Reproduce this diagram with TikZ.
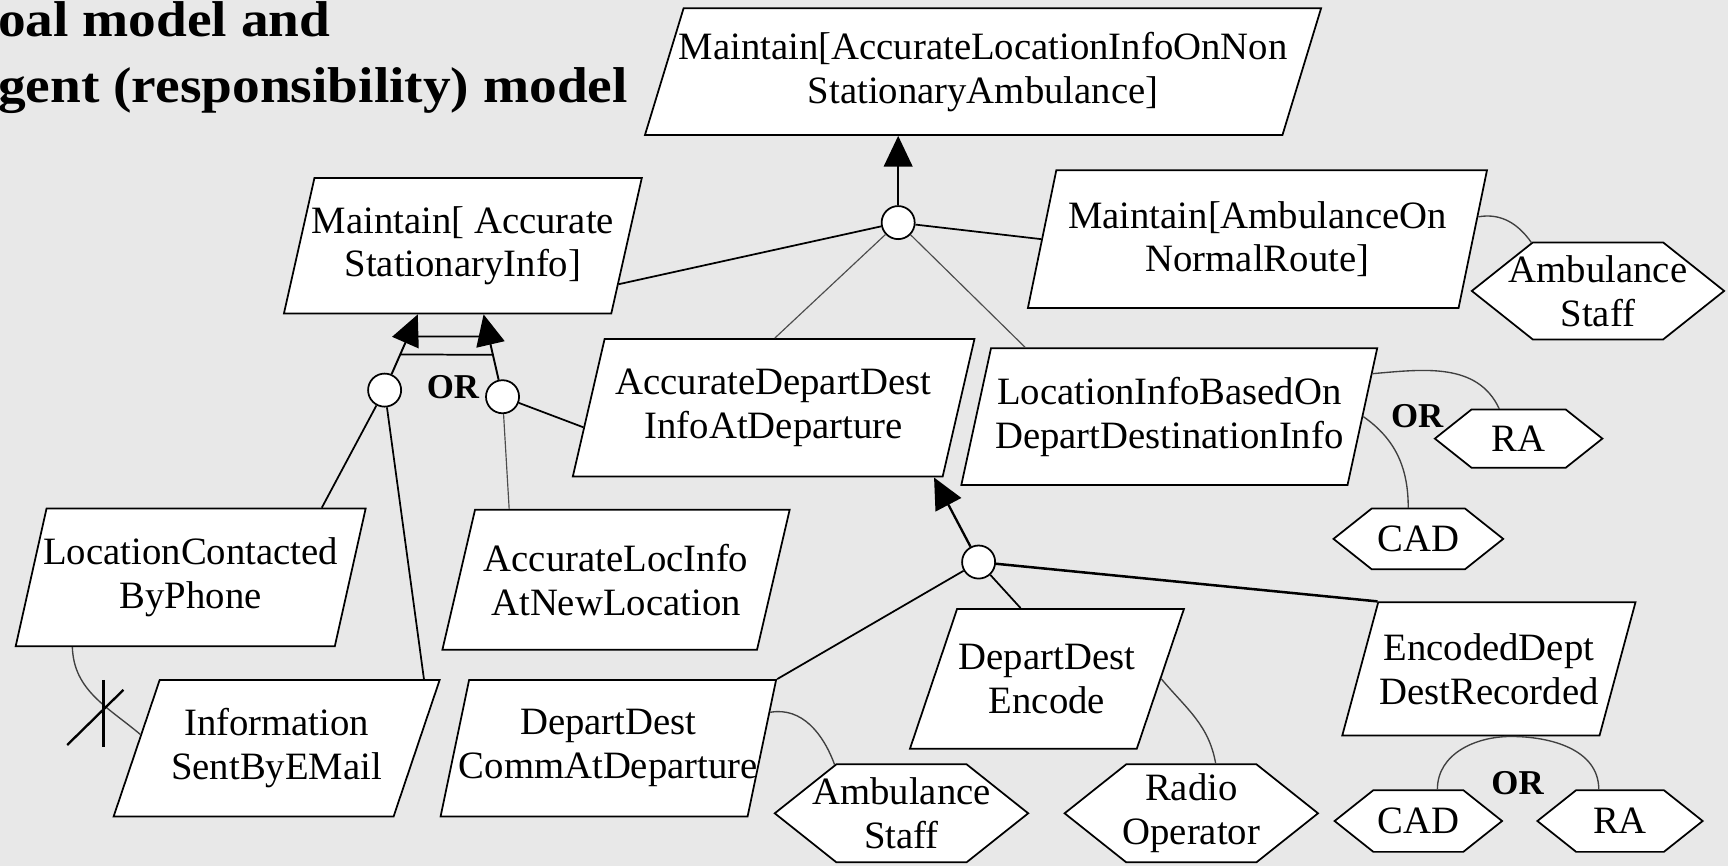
\documentclass[tikz,border=0pt]{standalone}
\usepackage{fontspec}
\setmainfont{Liberation Serif}
\usetikzlibrary{shapes.geometric,shapes.symbols,arrows.meta,calc}
\definecolor{bggray}{RGB}{232,232,232}
\newcommand{\goalfont}{\fontsize{20}{22.7}\selectfont}
\newcommand{\orfont}{\bfseries\fontsize{18}{20}\selectfont}
\newfontfamily\titlefont[FakeStretch=1.1]{Liberation Serif}

\tikzset{
  goal/.style={trapezium, trapezium left angle=76, trapezium right angle=104,
    trapezium stretches=true, draw, fill=white, line width=0.9pt,
    align=center, inner xsep=-1cm, inner ysep=0pt, font=\goalfont},
  agent/.style={signal, signal to=west and east, signal pointer angle=77,
    draw, fill=white, line width=0.9pt, align=center, inner xsep=-0.5cm,
    inner ysep=0pt, font=\goalfont},
  andnode/.style={circle, draw, fill=white, line width=0.9pt,
    minimum size=0.6cm, inner sep=0pt},
  link/.style={line width=0.9pt},
  thinlink/.style={line width=0.6pt, black!70},
  refine/.style={-{Triangle[length=5.6mm,width=5.2mm]}, line width=1.2pt},
  resp/.style={line width=0.7pt, black!75},
  orlabel/.style={font=\orfont, inner sep=0pt},
}

\begin{document}
\begin{tikzpicture}[x=0.02cm, y=-0.02cm]
  % Background and frame
  \fill[bggray] (0,0) rectangle (1568,786);
  \useasboundingbox (0,0) rectangle (1568,786);

  % Title
  \node[anchor=base west, inner sep=0pt, font=\titlefont\bfseries\fontsize{26}{30}\selectfont] (title1) at (-2,33) {oal model and};
  \node[anchor=base west, inner sep=0pt, font=\titlefont\bfseries\fontsize{26}{30}\selectfont] (title2) at (-2,93) {gent (responsibility) model};

  % Goals
  \node[goal, trapezium left angle=68, trapezium right angle=112, minimum width=12.3cm, minimum height=2.3cm] (top) at (892,65) {Maintain[AccurateLocationInfoOnNon\\StationaryAmbulance]};
  \node[goal, minimum width=6.5cm, minimum height=2.46cm] (stat) at (420,223) {Maintain[ Accurate\\StationaryInfo]};
  \node[goal, minimum width=8.34cm, minimum height=2.5cm] (route) at (1141,217) {Maintain[AmbulanceOn\\NormalRoute]};
  \node[goal, minimum width=7.3cm, minimum height=2.5cm] (depinfo) at (702,370) {AccurateDepartDest\\InfoAtDeparture};
  \node[goal, minimum width=7.56cm, minimum height=2.48cm] (locinfo) at (1061,378) {LocationInfoBasedOn\\DepartDestinationInfo};
  \node[goal, minimum width=6.36cm, minimum height=2.5cm] (phone) at (173,524) {LocationContacted\\ByPhone};
  \node[goal, minimum width=6.36cm, minimum height=2.54cm] (newloc) at (559,526) {AccurateLocInfo\\AtNewLocation};
  \node[goal, minimum width=5.96cm, minimum height=2.48cm] (email) at (251,679) {Information\\SentByEMail};
  \node[goal, minimum width=6.1cm, minimum height=2.48cm] (comm) at (552,679) {DepartDest\\CommAtDeparture};
  \node[goal, minimum width=5.0cm, minimum height=2.54cm] (encode) at (950,616) {DepartDest\\Encode};
  \node[goal, minimum width=5.36cm, minimum height=2.42cm] (recorded) at (1351,607) {EncodedDept\\DestRecorded};

  % Agents
  \node[agent, minimum width=4.58cm, minimum height=1.76cm] (staffA) at (1450,264) {Ambulance\\Staff};
  \node[agent, minimum width=3.04cm, minimum height=1.06cm] (raA) at (1378,398) {RA};
  \node[agent, minimum width=3.08cm, minimum height=1.1cm] (cadA) at (1287,489) {CAD};
  \node[agent, minimum width=4.6cm, minimum height=1.78cm] (staffB) at (818,738) {Ambulance\\Staff};
  \node[agent, minimum width=4.6cm, minimum height=1.78cm] (radio) at (1081,738) {Radio\\Operator};
  \node[agent, minimum width=3.04cm, minimum height=1.12cm] (cadB) at (1287,745) {CAD};
  \node[agent, minimum width=3.0cm, minimum height=1.12cm] (raB) at (1470,745) {RA};

  % Refinement nodes
  \node[andnode] (and1) at (815,202) {};
  \node[andnode] (orL) at (349,354) {};
  \node[andnode] (orR) at (456,360) {};
  \node[andnode] (and2) at (888,510) {};

  % AND refinement of the top goal
  \draw[refine] (and1) -- (and1 |- top.south);
  \draw[link] (and1) -- ($(stat.bottom right corner)!0.22!(stat.top right corner)$);
  \draw[link] (and1) -- ($(route.bottom left corner)!0.5!(route.top left corner)$);
  \draw[thinlink] (and1) -- ($(depinfo.top left corner)!0.46!(depinfo.top right corner)$);
  \draw[thinlink] (and1) -- ($(locinfo.top left corner)!0.09!(locinfo.top right corner)$);

  % OR refinement of the stationary goal
  \coordinate (orLtip) at ($(stat.bottom left corner)!0.41!(stat.bottom right corner)$);
  \coordinate (orRtip) at ($(stat.bottom left corner)!0.61!(stat.bottom right corner)$);
  \draw[refine, line width=1pt] (orL) -- (orLtip);
  \draw[refine, line width=1pt] (orR) -- (orRtip);
  \draw[link] ($(orL)!0.47!(orLtip)$) -- ($(orR)!0.51!(orRtip)$);
  \draw[link] ($(orL)!0.71!(orLtip)$) -- ($(orR)!0.73!(orRtip)$);
  \node[orlabel] (orS) at (411,351) {OR};
  \draw[link] (orL) -- ($(phone.top left corner)!0.86!(phone.top right corner)$);
  \draw[link] (orL) -- ($(email.top left corner)!0.94!(email.top right corner)$);
  \draw[thinlink] (orR) -- ($(newloc.top left corner)!0.11!(newloc.top right corner)$);
  \draw[link] (orR) -- ($(depinfo.bottom left corner)!0.36!(depinfo.top left corner)$);

  % AND refinement of the departure goal
  \draw[refine] (and2) -- ($(depinfo.bottom left corner)!0.975!(depinfo.bottom right corner)$);
  \draw[link] (and2) -- (comm.top right corner);
  \draw[link] (and2) -- ($(encode.top left corner)!0.28!(encode.top right corner)$);
  \draw[link, line width=1.3pt] (and2) -- (recorded.top left corner);

  % Conflict between phone and e-mail
  \draw[resp] ($(phone.bottom left corner)!0.18!(phone.bottom right corner)$) to[out=-88,in=140] ($(email.bottom left corner)!0.6!(email.top left corner)$);
  \coordinate (cross) at (94,648);
  \draw[line width=1.2pt] ([shift={(0,-31)}]cross) -- ([shift={(0,30)}]cross);
  \draw[line width=1.2pt] ([shift={(-33,28)}]cross) -- ([shift={(18,-22)}]cross);

  % Responsibility links
  \draw[resp] ($(route.bottom right corner)!0.66!(route.top right corner)$) to[out=10,in=125] (staffA.144);
  \draw[resp] ($(locinfo.bottom right corner)!0.81!(locinfo.top right corner)$) to[out=5,in=115] (raA.123);
  \draw[resp] ($(locinfo.bottom right corner)!0.5!(locinfo.top right corner)$) to[out=-35,in=90] (cadA.108);
  \node[orlabel] (orA) at (1286,378) {OR};
  \draw[resp] ($(comm.bottom right corner)!0.76!(comm.top right corner)$) to[out=10,in=110] (staffB.144);
  \draw[resp] ($(encode.bottom right corner)!0.5!(encode.top right corner)$) to[out=-50,in=100] (radio.64);
  \coordinate (recbot) at ($(recorded.bottom left corner)!0.655!(recorded.bottom right corner)$);
  \draw[resp] (cadB.59) to[out=90,in=180] (recbot) to[out=0,in=90] (raB.124);
  \node[orlabel] (orB) at (1377,711) {OR};
\end{tikzpicture}
\end{document}
